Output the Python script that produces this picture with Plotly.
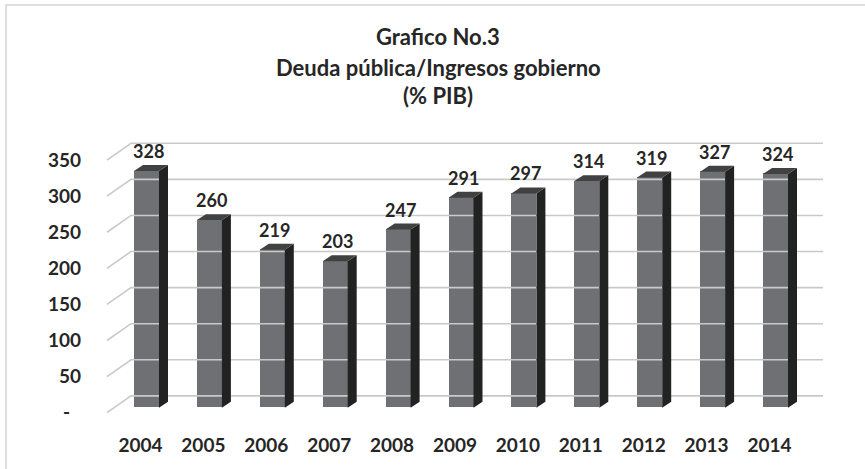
import plotly.graph_objects as go

# ---------------- data ----------------
years = ["2004", "2005", "2006", "2007", "2008", "2009", "2010", "2011", "2012", "2013", "2014"]
values = [328, 260, 219, 203, 247, 291, 297, 314, 319, 327, 324]
tick_values = [0, 50, 100, 150, 200, 250, 300, 350]
tick_labels = ["-\u2007", "50", "100", "150", "200", "250", "300", "350"]
title_lines = ["Grafico No.3", "Deuda pública/Ingresos gobierno", "(% PIB)"]

# ---------------- layout geometry (pixels) ----------------
W, H = 865, 469
SLOT = 62.9          # px per category
FIRST_C = 146.5      # px centre of first bar
PXU = 0.731          # px per value unit
ZERO_PY = 413        # px of value 0 on bar front plane
XD0, XD1 = 100, 830
YD_BOT, YD_TOP = 423, 123
BAR_W = 25
DEP_X, DEP_Y = 9, 6          # bar depth
WALL_UP = 12                 # back wall above bar front plane (px)
LABEL_DOWN = 5               # label plane below bar front plane (px)
WALL_X0, WALL_X1 = 131, 823
DIAG_X0 = 107

FONT = "Lato, 'Open Sans', sans-serif"
TXT = "#262626"
FRONT = "#6f7073"
SIDE = "#222222"
TOP = "#414141"
GRID = "#c9c9c9"


def ux(px):
    return px / SLOT


def uy(px):
    return px / PXU


def xpx(px):
    return (px - FIRST_C) / SLOT


idx = list(range(len(years)))
fig = go.Figure()

# back wall gridlines + diagonal floor/side lines
gx, gy = [], []
for t in tick_values:
    gx += [xpx(DIAG_X0), xpx(WALL_X0), xpx(WALL_X1), None]
    gy += [t - uy(LABEL_DOWN), t + uy(WALL_UP), t + uy(WALL_UP), None]
fig.add_trace(go.Scatter(x=gx, y=gy, mode="lines", line=dict(color=GRID, width=1.6),
                         hoverinfo="skip", showlegend=False))

# front faces
fig.add_trace(go.Bar(x=idx, y=values, width=ux(BAR_W), marker=dict(color=FRONT, line=dict(width=0)),
                     showlegend=False))

hw = ux(BAR_W) / 2
for i, v in zip(idx, values):
    # side face
    fig.add_trace(go.Scatter(
        x=[i + hw, i + hw + ux(DEP_X), i + hw + ux(DEP_X), i + hw, i + hw],
        y=[0, uy(DEP_Y), v + uy(DEP_Y), v, 0],
        fill="toself", fillcolor=SIDE, mode="lines", line=dict(width=0, color=SIDE),
        hoverinfo="skip", showlegend=False))
    # top face
    fig.add_trace(go.Scatter(
        x=[i - hw, i + hw, i + hw + ux(DEP_X), i - hw + ux(DEP_X), i - hw],
        y=[v, v, v + uy(DEP_Y), v + uy(DEP_Y), v],
        fill="toself", fillcolor=TOP, mode="lines", line=dict(width=0, color=TOP),
        hoverinfo="skip", showlegend=False))

annotations = []
for i, v in zip(idx, values):
    annotations.append(dict(x=i + ux(2), y=v + uy(DEP_Y), xref="x", yref="y", text=str(v),
                            showarrow=False, yanchor="middle", yshift=14,
                            font=dict(family=FONT, size=18, color=TXT, weight="bold")))

title_py = [37, 68, 97]
for line, py in zip(title_lines, title_py):
    annotations.append(dict(x=438 / W, y=1 - py / H, xref="paper", yref="paper", text=line,
                            showarrow=False, yanchor="middle", xanchor="center",
                            font=dict(family=FONT, size=22, color=TXT, weight="bold")))

fig.update_layout(
    width=W, height=H,
    margin=dict(l=0, r=0, t=0, b=0),
    paper_bgcolor="white", plot_bgcolor="rgba(0,0,0,0)",
    annotations=annotations,
    shapes=[dict(type="rect", xref="paper", yref="paper", x0=6 / W, x1=1.05, y0=-0.05, y1=1 - 5 / H,
                 line=dict(color="#d4d4d4", width=1.5), layer="below")],
    xaxis=dict(domain=[XD0 / W, XD1 / W], range=[xpx(XD0), xpx(XD1)],
               tickvals=[i - ux(6) for i in idx], ticktext=years,
               showgrid=False, zeroline=False, showline=False, ticks="",
               ticklabelstandoff=14,
               tickfont=dict(family=FONT, size=19, color=TXT, weight="bold")),
    yaxis=dict(domain=[1 - YD_BOT / H, 1 - YD_TOP / H],
               range=[(ZERO_PY - YD_BOT) / PXU, (ZERO_PY - YD_TOP) / PXU],
               tickvals=[t - uy(LABEL_DOWN) for t in tick_values], ticktext=tick_labels,
               showgrid=False, zeroline=False, showline=False, ticks="",
               ticklabelstandoff=18,
               tickfont=dict(family=FONT, size=19, color=TXT, weight="bold")),
    bargap=0,
)

fig.write_html("out.html", config={"displayModeBar": False},
               post_script="document.body.style.margin='0';")
